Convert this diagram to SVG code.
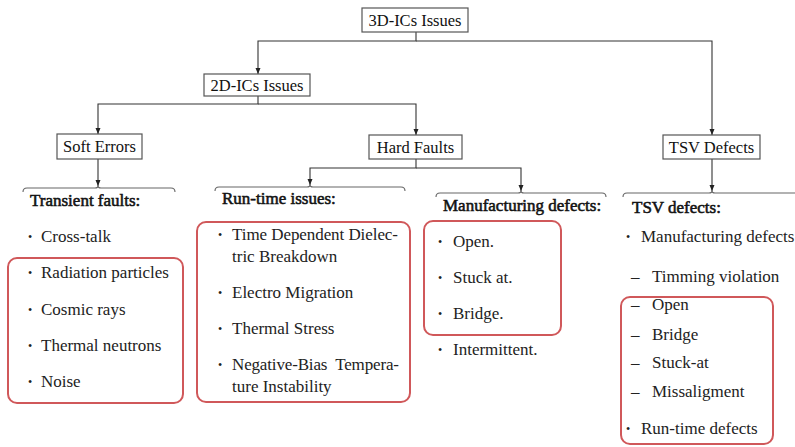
<svg xmlns="http://www.w3.org/2000/svg" width="795" height="447" viewBox="0 0 795 447">
<defs>
<marker id="ah" viewBox="0 0 6 6" refX="6" refY="3" markerWidth="6" markerHeight="6" markerUnits="userSpaceOnUse" orient="auto">
<path d="M0,0.5 L6,3 L0,5.5 Z" fill="#222"/>
</marker>
<style>
text{font-family:'Liberation Serif','Tinos','DejaVu Serif',serif}
.box{fill:#fff;stroke:#555;stroke-width:1.2}
.lbl{font-size:16.5px;fill:#111;text-anchor:middle}
.con{fill:none;stroke:#333;stroke-width:1.1}
.brace{fill:none;stroke:#666;stroke-width:1.1}
.hd{font-size:17px;fill:#111;stroke:#111;stroke-width:0.55}
.it{font-size:17px;fill:#222}
.bu{font-size:12px;fill:#222}
.red{fill:none;stroke:#d0585a;stroke-width:2}
</style>
</defs>
<rect width="795" height="447" fill="#fff"/>

<g id="connectors">
<path class="con" d="M416,32 V41 H258 V74" marker-end="url(#ah)"/>
<path class="con" d="M416,41 H712 V135" marker-end="url(#ah)"/>
<path class="con" d="M258,96 V104 H98 V134" marker-end="url(#ah)"/>
<path class="con" d="M258,104 H416 V135" marker-end="url(#ah)"/>
<path class="con" d="M98,159 V186" marker-end="url(#ah)"/>
<path class="con" d="M416,159 V168 H310 V185" marker-end="url(#ah)"/>
<path class="con" d="M416,168 H521 V191" marker-end="url(#ah)"/>
<path class="con" d="M712,159 V191" marker-end="url(#ah)"/>
</g>

<g id="n3d"><rect class="box" x="362" y="8" width="106" height="24"/><text class="lbl" x="415" y="26">3D-ICs Issues</text></g>
<g id="n2d"><rect class="box" x="204" y="74" width="106" height="22"/><text class="lbl" x="257" y="91">2D-ICs Issues</text></g>
<g id="nsoft"><rect class="box" x="57" y="134" width="85" height="25"/><text class="lbl" x="99.5" y="152">Soft Errors</text></g>
<g id="nhard"><rect class="box" x="369" y="135" width="93" height="24"/><text class="lbl" x="415.5" y="153">Hard Faults</text></g>
<g id="ntsv"><rect class="box" x="663" y="135" width="97" height="24"/><text class="lbl" x="711.5" y="153">TSV Defects</text></g>

<g id="transient">
<path class="brace" d="M23,192 Q23,188 27,188 L95,188 Q98,188 98,186 Q98,188 101,188 L171,188 Q175,188 175,192"/>
<text class="hd" x="30" y="206">Transient faults:</text>
<text class="bu" x="28" y="241">•</text><text class="it" x="41" y="242">Cross-talk</text>
<rect class="red" x="8" y="258" width="175" height="145" rx="9"/>
<text class="bu" x="28" y="277">•</text><text class="it" x="41" y="278">Radiation particles</text>
<text class="bu" x="28" y="314">•</text><text class="it" x="41" y="315">Cosmic rays</text>
<text class="bu" x="28" y="350">•</text><text class="it" x="41" y="351">Thermal neutrons</text>
<text class="bu" x="28" y="386">•</text><text class="it" x="41" y="387">Noise</text>
</g>

<g id="runtime">
<path class="brace" d="M215,191 Q215,187 219,187 L307,187 Q310,187 310,185 Q310,187 313,187 L401,187 Q405,187 405,191"/>
<text class="hd" x="222" y="204">Run-time issues:</text>
<rect class="red" x="197" y="222" width="213" height="180" rx="9"/>
<text class="bu" x="218" y="239">•</text><text class="it" x="232" y="240" textLength="166" lengthAdjust="spacing">Time Dependent Dielec-</text>
<text class="it" x="232" y="262">tric Breakdown</text>
<text class="bu" x="218" y="297">•</text><text class="it" x="232" y="298">Electro Migration</text>
<text class="bu" x="218" y="333">•</text><text class="it" x="232" y="334">Thermal Stress</text>
<text class="bu" x="218" y="369">•</text><text class="it" x="232" y="370" textLength="167" lengthAdjust="spacing" xml:space="preserve">Negative-Bias  Tempera-</text>
<text class="it" x="232" y="392">ture Instability</text>
</g>

<g id="manufacturing">
<path class="brace" d="M436,197 Q436,193 440,193 L518,193 Q521,193 521,191 Q521,193 524,193 L602,193 Q606,193 606,197"/>
<text class="hd" x="443" y="211">Manufacturing defects:</text>
<rect class="red" x="424" y="221" width="137" height="114" rx="9"/>
<text class="bu" x="438" y="246">•</text><text class="it" x="453" y="247">Open.</text>
<text class="bu" x="438" y="282">•</text><text class="it" x="453" y="283">Stuck at.</text>
<text class="bu" x="438" y="318">•</text><text class="it" x="453" y="319">Bridge.</text>
<text class="bu" x="438" y="354">•</text><text class="it" x="453" y="355">Intermittent.</text>
</g>

<g id="tsvdefects">
<path class="brace" d="M623,197 Q623,193 627,193 L709,193 Q712,193 712,191 Q712,193 715,193 L796,193"/>
<text class="hd" x="632" y="213">TSV defects:</text>
<text class="bu" x="626" y="241">•</text><text class="it" x="641" y="242">Manufacturing defects</text>
<text class="it" x="631" y="282">–</text><text class="it" x="652" y="282">Timming violation</text>
<rect class="red" x="621" y="297" width="152" height="147" rx="9"/>
<text class="it" x="631" y="310">–</text><text class="it" x="652" y="310">Open</text>
<text class="it" x="631" y="340">–</text><text class="it" x="652" y="340">Bridge</text>
<text class="it" x="631" y="368">–</text><text class="it" x="652" y="368">Stuck-at</text>
<text class="it" x="631" y="397">–</text><text class="it" x="652" y="397">Missaligment</text>
<text class="bu" x="626" y="433">•</text><text class="it" x="641" y="434">Run-time defects</text>
</g>
</svg>
